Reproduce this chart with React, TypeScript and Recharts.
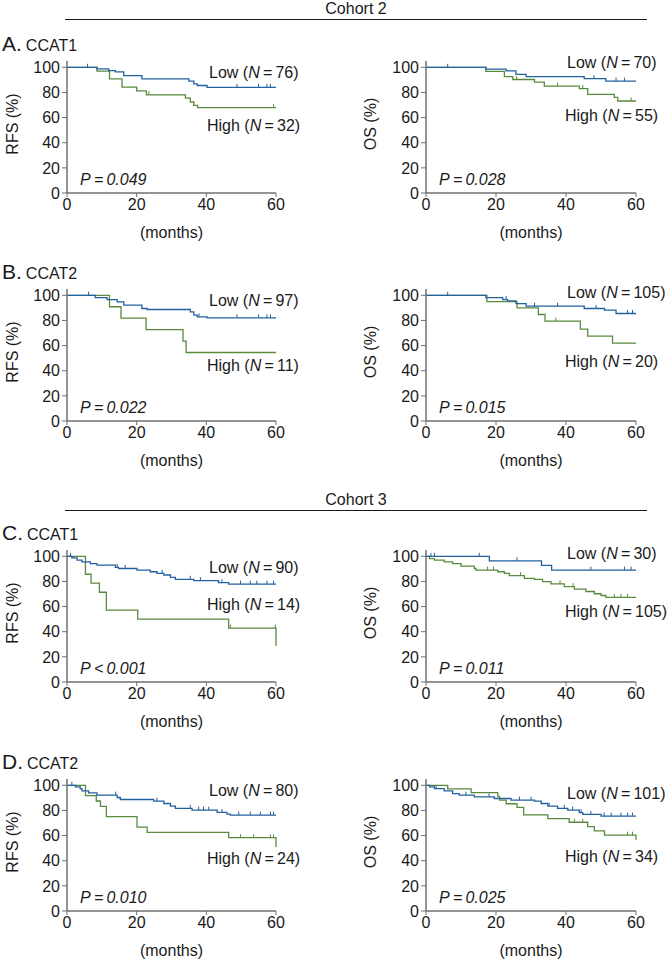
import React from 'react'
import { LineChart, Line, XAxis, YAxis } from 'recharts'

type Pt = [number, number]

const FONT = '"Liberation Sans", Arial, Helvetica, sans-serif'
const BLUE = '#23609f'
const GREEN = '#5a8a3e'
const AXIS = '#707070'
const TS = '\u2009'

const xTicks = [0, 20, 40, 60]
const yTicks = [0, 20, 40, 60, 80, 100]

// Cohort 2, CCAT1 RFS
const c2Ccat1RfsLow: Pt[] = [[0, 100], [8.6, 98.7], [12, 97.4], [13.9, 96.3], [16.3, 93.4], [21.5, 90.8], [35, 89], [36.4, 86.8], [37.4, 85.5], [40.2, 84], [60, 84]]
const c2Ccat1RfsLowCensor = [5.9, 48.8, 55, 57.4, 58.4]
const c2Ccat1RfsHigh: Pt[] = [[0, 100], [8.6, 97], [12.2, 90.8], [15.8, 84.2], [20, 81.3], [22.8, 78.1], [34, 75.5], [35.4, 72.4], [36.4, 69.7], [37.5, 67.9], [60, 67.9]]
const c2Ccat1RfsHighCensor = [23.5, 59.3]

// Cohort 2, CCAT1 OS
const c2Ccat1OsLow: Pt[] = [[0, 100], [17.1, 98.6], [22.9, 97.1], [25.7, 94.3], [28.6, 92.6], [45.2, 91], [51.4, 89], [60, 89]]
const c2Ccat1OsLowCensor = [6.2, 48, 54.3, 56.7]
const c2Ccat1OsHigh: Pt[] = [[0, 100], [17.1, 96.8], [22.4, 92.6], [24.8, 90.3], [31, 88.2], [33.8, 85], [43.8, 83], [46.2, 78.4], [53.8, 76], [54.8, 73.2], [60, 73.2]]
const c2Ccat1OsHighCensor = [25.9, 37.6, 44.8, 58.6]

// Cohort 2, CCAT2 RFS
const c2Ccat2RfsLow: Pt[] = [[0, 100], [8.1, 98.2], [11.5, 96.6], [14.4, 94.7], [16.3, 92.1], [21.5, 89.5], [23, 88.7], [35.4, 86.8], [36.4, 84.2], [37.4, 82.9], [40.2, 82.1], [60, 82.1]]
const c2Ccat2RfsLowCensor = [6.2, 37.9, 48.8, 55, 57.4, 58.4]
const c2Ccat2RfsHigh: Pt[] = [[0, 100], [12.2, 90.9], [15.5, 81.8], [22.7, 72.7], [33.3, 63.6], [34.2, 54.5], [60, 54.5]]
const c2Ccat2RfsHighCensor: number[] = []

// Cohort 2, CCAT2 OS
const c2Ccat2OsLow: Pt[] = [[0, 100], [17.1, 98.2], [21.9, 96.6], [23.3, 95.5], [25.7, 93.4], [28.6, 91.3], [45.2, 89.5], [51, 88.2], [54.3, 85.5], [60, 85.5]]
const c2Ccat2OsLowCensor = [6.2, 22.9, 31, 37.6, 48.6, 57.6, 59]
const c2Ccat2OsHigh: Pt[] = [[0, 100], [17.4, 95], [26, 90], [32.1, 84.7], [34, 79.4], [44.1, 73.1], [46.2, 67.5], [53.3, 62], [60, 62]]
const c2Ccat2OsHighCensor = [37.1]

// Cohort 3, CCAT1 RFS
const c3Ccat1RfsLow: Pt[] = [[0, 100], [1.4, 98.7], [2.9, 96.9], [4.3, 95.5], [6.7, 94.2], [8.6, 92.9], [13.9, 91.1], [14.8, 90.3], [20.1, 89], [23.9, 87.7], [25.8, 86.4], [27.8, 85.1], [29.7, 83.2], [31.1, 81.7], [36.4, 80.6], [43.5, 79], [46.4, 77.8], [60, 77.8]]
const c3Ccat1RfsLowCensor = [1, 14.4, 16.7, 27.3, 35.4, 38.3, 44.5, 49.8, 52.6, 54.5, 57.4, 59.3]
const c3Ccat1RfsHigh: Pt[] = [[0, 100], [5.3, 85.7], [6.9, 78.6], [9.3, 71.4], [11.3, 57.1], [20.3, 50], [46.4, 42.9], [60, 28.6]]
const c3Ccat1RfsHighCensor = [46.9, 59.8]

// Cohort 3, CCAT1 OS
const c3Ccat1OsLow: Pt[] = [[0, 100], [18.1, 96.4], [33, 92.8], [35.9, 89], [60, 89]]
const c3Ccat1OsLowCensor = [1.4, 2.4, 15.2, 26, 47.1, 56.7, 58.6]
const c3Ccat1OsHigh: Pt[] = [[0, 100], [1, 98.2], [2.4, 96.9], [5.2, 95.5], [7.6, 94.2], [10, 92.1], [13.8, 90.3], [14.3, 89], [20.5, 87.7], [22.4, 86.4], [23.8, 84.6], [28.1, 82.5], [31, 81.7], [33.3, 79.8], [35.7, 78], [39.5, 75.9], [42.4, 73.8], [45.7, 72], [48.1, 70.2], [50, 68.8], [51.4, 67.3], [60, 67.3]]
const c3Ccat1OsHighCensor = [17.6, 19.3, 27, 38.3, 42, 53.8, 55.7, 57.6]

// Cohort 3, CCAT2 RFS
const c3Ccat2RfsLow: Pt[] = [[0, 100], [2.4, 98.7], [3.8, 97.4], [4.3, 95.5], [6.2, 93.9], [8.6, 92.1], [14.4, 90.3], [15.3, 88.7], [24.9, 87.4], [27.8, 85.5], [29.7, 83.4], [31.1, 81.6], [35.9, 80.3], [43.1, 78.4], [45.9, 77.1], [46.9, 76.3], [60, 76.3]]
const c3Ccat2RfsLowCensor = [1.4, 14, 25.8, 35.4, 37.8, 39.2, 40.7, 44.5, 49.3, 52.6, 55.5, 58.4, 59.3]
const c3Ccat2RfsHigh: Pt[] = [[0, 100], [5.3, 91.7], [8.4, 87.5], [9.6, 83.3], [11.3, 75], [20.1, 66.7], [23, 62.5], [46.4, 58.3], [60, 51]]
const c3Ccat2RfsHighCensor = [49.8, 53.6, 58.4, 59.3]

// Cohort 3, CCAT2 OS
const c3Ccat2OsLow: Pt[] = [[0, 100], [1, 98.7], [2.4, 97.4], [5.2, 95.5], [7.6, 93.4], [9.5, 92.1], [13.8, 90.8], [19.5, 89.5], [24.3, 88.2], [31, 87.4], [32.9, 85.5], [34.8, 83.4], [37.6, 81.6], [40.5, 80.3], [43.8, 78.2], [44.8, 76.8], [50, 75.5], [60, 75.5]]
const c3Ccat2OsLowCensor = [2.9, 11.4, 18, 26.7, 30, 35.2, 39.5, 41.9, 44.3, 47.1, 50.9, 52.9, 55.7, 57.6, 59]
const c3Ccat2OsHigh: Pt[] = [[0, 100], [6.2, 97.1], [12.9, 94.1], [20.5, 91.2], [21, 88.2], [22.9, 85.3], [26, 82.4], [27.9, 76.5], [34.8, 73.5], [40.9, 70.6], [46.2, 67.1], [48.1, 63.7], [51, 60.3], [60, 56.6]]
const c3Ccat2OsHighCensor = [42.4, 44.8, 57.6, 59]

const lowN = [76, 70, 97, 105, 90, 30, 80, 101]
const highN = [32, 55, 11, 20, 14, 105, 24, 34]
const pSign = ['=', '=', '=', '=', '<', '=', '=', '=']
const pValue = ['0.049', '0.028', '0.022', '0.015', '0.001', '0.011', '0.010', '0.025']

// step rows plus censor rows (level of the curve at that time)
const rows = (steps: Pt[], censor: number[]) => {
  const out = steps.map(([t, s]) => ({ t, s, c: false }))
  censor.forEach((ct) => {
    const lvl = [...steps].reverse().find(([t]) => t <= ct)
    if (lvl) out.push({ t: ct, s: lvl[1], c: true })
  })
  return out.sort((a, b) => a.t - b.t)
}

const panels = [
  { col: 0, y100: 67, tag: 'A.', gene: 'CCAT1', yTitle: 'RFS (%)', low: rows(c2Ccat1RfsLow, c2Ccat1RfsLowCensor), high: rows(c2Ccat1RfsHigh, c2Ccat1RfsHighCensor), lowDy: 6, highDy: 59 },
  { col: 1, y100: 67, yTitle: 'OS (%)', low: rows(c2Ccat1OsLow, c2Ccat1OsLowCensor), high: rows(c2Ccat1OsHigh, c2Ccat1OsHighCensor), lowDy: -4, highDy: 49 },
  { col: 0, y100: 295, tag: 'B.', gene: 'CCAT2', yTitle: 'RFS (%)', low: rows(c2Ccat2RfsLow, c2Ccat2RfsLowCensor), high: rows(c2Ccat2RfsHigh, c2Ccat2RfsHighCensor), lowDy: 6, highDy: 71 },
  { col: 1, y100: 295, yTitle: 'OS (%)', low: rows(c2Ccat2OsLow, c2Ccat2OsLowCensor), high: rows(c2Ccat2OsHigh, c2Ccat2OsHighCensor), lowDy: -2, highDy: 67 },
  { col: 0, y100: 556, tag: 'C.', gene: 'CCAT1', yTitle: 'RFS (%)', low: rows(c3Ccat1RfsLow, c3Ccat1RfsLowCensor), high: rows(c3Ccat1RfsHigh, c3Ccat1RfsHighCensor), lowDy: 12, highDy: 49 },
  { col: 1, y100: 556, yTitle: 'OS (%)', low: rows(c3Ccat1OsLow, c3Ccat1OsLowCensor), high: rows(c3Ccat1OsHigh, c3Ccat1OsHighCensor), lowDy: -2, highDy: 56 },
  { col: 0, y100: 785, tag: 'D.', gene: 'CCAT2', yTitle: 'RFS (%)', low: rows(c3Ccat2RfsLow, c3Ccat2RfsLowCensor), high: rows(c3Ccat2RfsHigh, c3Ccat2RfsHighCensor), lowDy: 6, highDy: 74 },
  { col: 1, y100: 785, yTitle: 'OS (%)', low: rows(c3Ccat2OsLow, c3Ccat2OsLowCensor), high: rows(c3Ccat2OsHigh, c3Ccat2OsHighCensor), lowDy: 9, highDy: 72 },
]

const cohorts = [
  { name: 'Cohort 2', y: 19 },
  { name: 'Cohort 3', y: 510 },
]

function Txt({ x, y, children, size = 16, center = false, style = {} }: any) {
  return (
    <div
      style={{
        position: 'absolute', left: x, top: y, fontSize: size, lineHeight: 1.15, whiteSpace: 'nowrap',
        transform: center ? 'translate(-50%, -50%)' : 'translateY(-50%)', ...style,
      }}
    >
      {children}
    </div>
  )
}

const censorDot = (color: string) => (props: any) => {
  const { cx, cy, payload, index } = props
  if (!payload?.c) return <g key={`d${index}`} />
  return <line key={`d${index}`} x1={cx} x2={cx} y1={cy - 3.5} y2={cy} stroke={color} strokeWidth={1} />
}

function KmPanel({ p, i }: { p: any; i: number }) {
  const right = p.col === 1
  const left0 = right ? 334 : 0
  const plotL = right ? 92 : 67
  const plotR = right ? 302 : 276
  const tick = { fill: '#1a1a1a', fontSize: 16, fontFamily: FONT }
  return (
    <>
      <div style={{ position: 'absolute', left: left0, top: p.y100 - 30 }}>
        <LineChart width={334} height={204} margin={{ top: 24, right: 334 - plotR, bottom: 0, left: plotL - 40 }}>
          <XAxis dataKey="t" type="number" domain={[0, 60]} ticks={xTicks} tick={tick} tickSize={4}
            axisLine={{ stroke: AXIS, strokeWidth: 1.5 }} tickLine={{ stroke: AXIS }} height={48} allowDuplicatedCategory={false} />
          <YAxis type="number" domain={[0, 105]} ticks={yTicks} tick={tick} tickSize={5} width={40}
            axisLine={{ stroke: AXIS, strokeWidth: 1.5 }} tickLine={{ stroke: AXIS }} />
          <Line data={p.high} dataKey="s" type="stepAfter" stroke={GREEN} strokeWidth={1.3}
            dot={censorDot(GREEN)} activeDot={false} isAnimationActive={false} />
          <Line data={p.low} dataKey="s" type="stepAfter" stroke={BLUE} strokeWidth={1.3}
            dot={censorDot(BLUE)} activeDot={false} isAnimationActive={false} />
        </LineChart>
      </div>
      {p.tag && (
        <div style={{ position: 'absolute', left: 2, top: p.y100 - 24, transform: 'translateY(-50%)', whiteSpace: 'nowrap', lineHeight: 1 }}>
          <span style={{ fontSize: 21 }}>{p.tag}</span>
          <span style={{ fontSize: 16, marginLeft: 4 }}>{p.gene}</span>
        </div>
      )}
      <Txt x={left0 + (right ? 37 : 13)} y={p.y100 + 57} style={{ transform: 'translate(-50%, -50%) rotate(-90deg)' }}>{p.yTitle}</Txt>
      <Txt x={left0 + (plotL + plotR) / 2} y={p.y100 + 166} center>(months)</Txt>
      <Txt x={left0 + (right ? 105 : 80)} y={p.y100 + 113} style={{ fontStyle: 'italic' }}>P{TS}{pSign[i]}{TS}{pValue[i]}</Txt>
      <Txt x={left0 + (right ? 233 : 209)} y={p.y100 + p.lowDy}>Low (<i>N</i>{TS}={TS}{lowN[i]})</Txt>
      <Txt x={left0 + (right ? 231 : 207)} y={p.y100 + p.highDy}>High (<i>N</i>{TS}={TS}{highN[i]})</Txt>
    </>
  )
}

export default function App() {
  return (
    <div style={{ position: 'absolute', left: 0, top: 0, width: 668, height: 960, background: '#fff', fontFamily: FONT, color: '#1a1a1a', overflow: 'hidden' }}>
      {cohorts.map((c) => (
        <React.Fragment key={c.name}>
          <Txt x={356} y={c.y - 10} center>{c.name}</Txt>
          <div style={{ position: 'absolute', left: 65, top: c.y, width: 582, height: 1, background: '#1a1a1a' }} />
        </React.Fragment>
      ))}
      {panels.map((p, i) => (
        <KmPanel key={i} p={p} i={i} />
      ))}
    </div>
  )
}
